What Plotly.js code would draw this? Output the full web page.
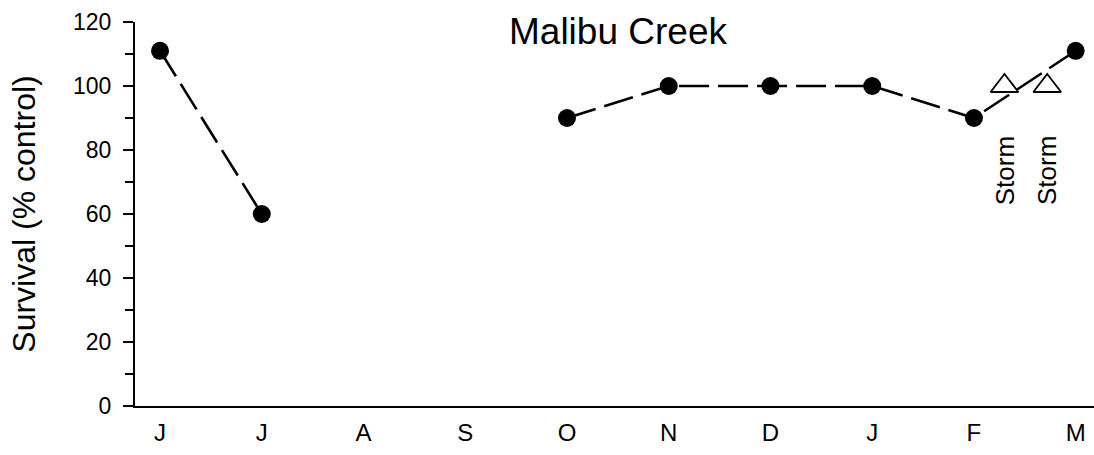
<!DOCTYPE html>
<html>
<head>
<meta charset="utf-8">
<script src="https://cdn.plot.ly/plotly-3.0.1.min.js"></script>
<style>
  html, body { margin: 0; padding: 0; background: #fff; }
  #chart { width: 1094px; height: 455px; }
</style>
</head>
<body>
<div id="chart"></div>
<script>
// Month positions (index) and labels
const monthPos = [0, 1, 2, 3, 4, 5, 6, 7, 8, 9];
const monthLabels = ["J", "J", "A", "S", "O", "N", "D", "J", "F", "M"];

// Survival (% control); null = no sample
const survival = [111, 60, null, null, 90, 100, 100, 100, 90, 111];

// Storm samples
const stormPos = [8.3, 8.72];
const stormSurvival = [100, 100];
const stormLabelY = 73.5;

const FONT = "Liberation Sans, Arial, sans-serif";

const traces = [
  {
    x: monthPos, y: survival, type: "scatter", mode: "lines+markers",
    connectgaps: false,
    line: { color: "#000", width: 2.6, dash: "30px,9px" },
    marker: { color: "#000", size: 18, symbol: "circle" },
    hoverinfo: "x+y"
  },
  {
    x: stormPos, y: stormSurvival, type: "scatter", mode: "markers",
    marker: { color: "#fff", size: 24, symbol: "triangle-up", line: { color: "#000", width: 1.8 } },
    hoverinfo: "x+y"
  }
];

const annotations = stormPos.map(p => ({
  x: p, y: stormLabelY, xref: "x", yref: "y",
  text: "Storm", showarrow: false, textangle: -90,
  font: { family: FONT, size: 26, color: "#000" },
  xanchor: "center", yanchor: "middle"
}));
annotations.push({
  x: 0.504, y: 0.975, xref: "paper", yref: "paper",
  text: "Malibu Creek", showarrow: false,
  font: { family: FONT, size: 37, color: "#000" },
  xanchor: "center", yanchor: "middle"
});

const layout = {
  width: 1094, height: 455,
  margin: { l: 135, r: 0, t: 22, b: 49 },
  paper_bgcolor: "#fff", plot_bgcolor: "#fff",
  showlegend: false,
  font: { family: FONT, color: "#000" },
  xaxis: {
    range: [-0.246, 9.18],
    tickvals: monthPos, ticktext: monthLabels,
    ticks: "", showgrid: false, zeroline: false,
    showline: true, linecolor: "#000", linewidth: 2,
    tickfont: { family: FONT, size: 24, color: "#000" },
    ticklabelstandoff: 4
  },
  yaxis: {
    range: [0, 120],
    tickvals: [0, 20, 40, 60, 80, 100, 120],
    ticks: "outside", ticklen: 10, tickwidth: 1.5, tickcolor: "#000",
    minor: { tickvals: [10, 30, 50, 70, 90, 110], ticks: "outside", ticklen: 8, tickwidth: 1.5, tickcolor: "#000", showgrid: false },
    showgrid: false, zeroline: false,
    showline: true, linecolor: "#000", linewidth: 2,
    tickfont: { family: FONT, size: 23, color: "#000" },
    ticklabelstandoff: 7,
    title: { text: "Survival (% control)", font: { family: FONT, size: 32, color: "#000" }, standoff: 28 }
  },
  annotations: annotations
};

Plotly.newPlot("chart", traces, layout, { displayModeBar: false, staticPlot: true });
</script>
</body>
</html>
